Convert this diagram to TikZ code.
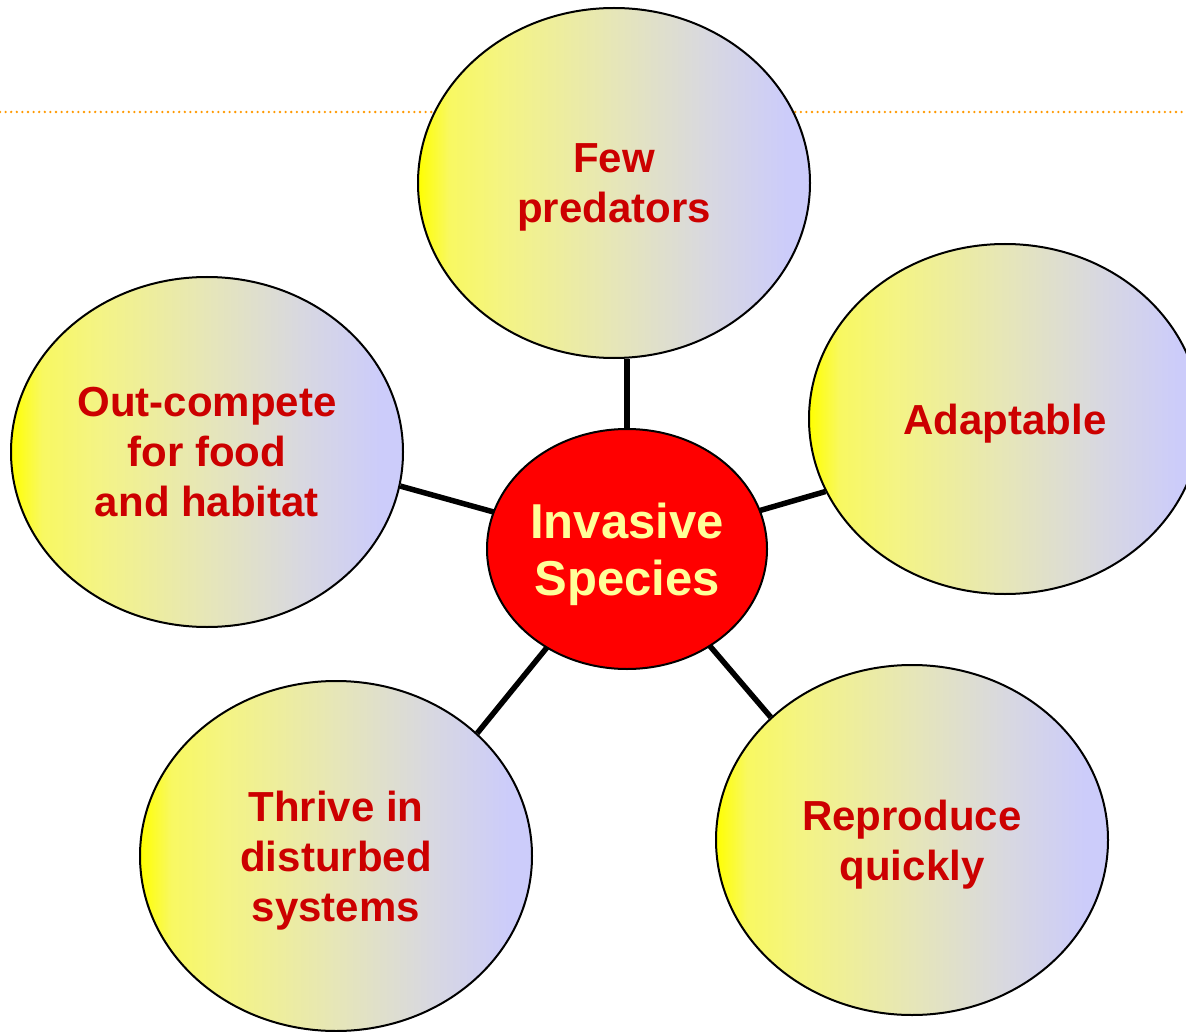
\documentclass[tikz,border=0pt]{standalone}
\usepackage{fontspec}
\setmainfont{Liberation Sans}
\usetikzlibrary{shapes.geometric,backgrounds}
\definecolor{txtred}{HTML}{CC0000}
\definecolor{cred}{HTML}{FF0000}
\definecolor{cyel}{HTML}{FFFF99}
\definecolor{dotorange}{HTML}{FF9900}
\definecolor{sya}{HTML}{FFFF00}
\definecolor{syb}{HTML}{F8F862}
\definecolor{syc}{HTML}{F4F484}
\definecolor{syd}{HTML}{E6E6B8}
\definecolor{sye}{HTML}{D8D8E0}
\definecolor{syf}{HTML}{CCCCFA}
\pgfdeclarehorizontalshading{ellshade}{100bp}{color(0bp)=(sya); color(25bp)=(sya); color(29bp)=(syb); color(36bp)=(syc); color(50bp)=(syd); color(62bp)=(sye); color(72bp)=(syf); color(100bp)=(syf)}
\tikzset{
  bub/.style={ellipse, draw=black, line width=2pt, shade, shading=ellshade,
    minimum width=392pt, minimum height=350pt, inner sep=0pt, text depth=0pt,
    font=\fontsize{42}{50}\selectfont\bfseries, text=txtred, align=center},
  hub/.style={ellipse, draw=black, line width=2pt, fill=cred,
    minimum width=280pt, minimum height=240pt, inner sep=0pt, text depth=0pt,
    font=\fontsize{49}{57}\selectfont\bfseries, text=cyel, align=center},
  conn/.style={draw=black, line width=5.5pt},
  dotline/.style={draw=dotorange, line width=2.6pt, line cap=round, dash pattern=on 0pt off 5.6pt}
}
\begin{document}
\begin{tikzpicture}[x=1pt,y=-1pt]
\useasboundingbox (0,0) rectangle (1186,1032);
\clip (0,0) rectangle (1186,1032);
\node[bub] (fp) at (614,183) {Few\\predators};
\node[bub] (oc) at (207,452) {Out-compete\\for food\\and habitat};
\node[bub] (ad) at (1005,419) {Adaptable};
\node[bub] (th) at (336,856) {Thrive in\\disturbed\\systems};
\node[bub] (rp) at (912,840) {Reproduce\\quickly};
\node[hub] (c) at (627,549) {Invasive\\Species};
\begin{scope}[on background layer]
\coordinate (dl) at (0,112);
\coordinate (dr) at (1186,112);
\draw[dotline] (dl) -- (dr);
\draw[conn] (c.center) -- (c.center |- fp.south);
\draw[conn] (c.center) -- (oc.-10);
\draw[conn] (c.center) -- (ad.202);
\draw[conn] (c.center) -- (th.41.5);
\draw[conn] (c.center) -- (rp.139);
\end{scope}
\end{tikzpicture}
\end{document}
